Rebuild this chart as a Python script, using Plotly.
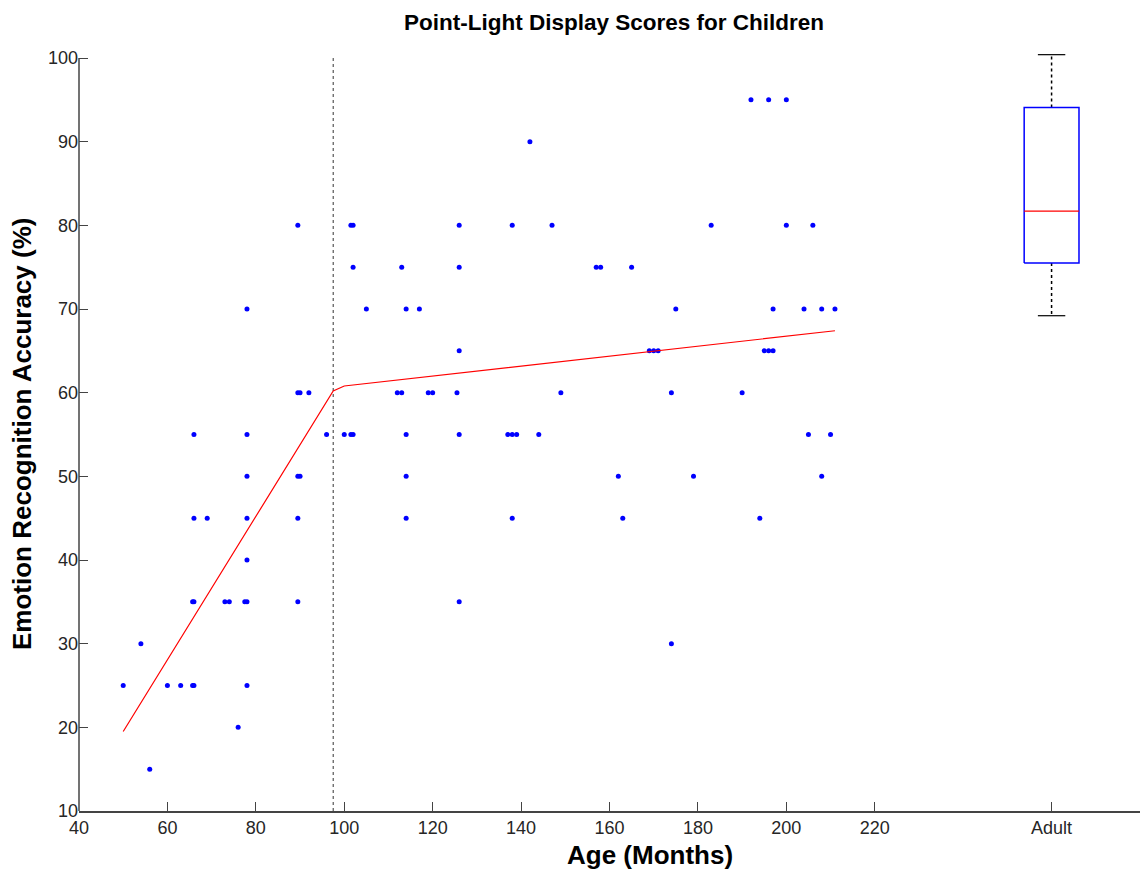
import plotly.graph_objects as go

# ---- data ----
ages = [192, 196, 200,
        142,
        89.5, 101.5, 102, 126, 138, 147, 183, 200, 206,
        102, 113, 126, 157, 158, 165,
        78, 105, 114, 117, 175, 197, 204, 208, 211,
        126, 169, 170, 171, 195, 196, 197,
        89.5, 90, 92, 112, 113, 119, 120, 125.5, 149, 174, 190,
        66, 78, 96, 100, 101.5, 102, 114, 126, 137, 138, 139, 144, 205, 210,
        78, 89.5, 90, 114, 162, 179, 208,
        66, 69, 78, 89.5, 114, 138, 163, 194,
        78,
        65.7, 66, 73, 74, 77.5, 78, 89.5, 126,
        54, 174,
        50, 60, 63, 65.7, 66, 78,
        76,
        56]
scores = [95, 95, 95,
          90,
          80, 80, 80, 80, 80, 80, 80, 80, 80,
          75, 75, 75, 75, 75, 75,
          70, 70, 70, 70, 70, 70, 70, 70, 70,
          65, 65, 65, 65, 65, 65, 65,
          60, 60, 60, 60, 60, 60, 60, 60, 60, 60, 60,
          55, 55, 55, 55, 55, 55, 55, 55, 55, 55, 55, 55, 55, 55,
          50, 50, 50, 50, 50, 50, 50,
          45, 45, 45, 45, 45, 45, 45, 45,
          40,
          35, 35, 35, 35, 35, 35, 35, 35,
          30, 30,
          25, 25, 25, 25, 25, 25,
          20,
          15]

fit_x = [50, 97.5, 100, 211]
fit_y = [19.5, 60.2, 60.8, 67.4]

breakpoint_age = 97.5
y_limits = [10, 100]

adult_position = 260
adult_lower_whisker = 69.2
adult_q1 = 75.5
adult_median = 81.7
adult_q3 = 94.1
adult_upper_whisker = 100.4

x_tick_values = [40, 60, 80, 100, 120, 140, 160, 180, 200, 220, adult_position]
x_tick_labels = ["40", "60", "80", "100", "120", "140", "160", "180", "200", "220", "Adult"]
y_tick_values = [10, 20, 30, 40, 50, 60, 70, 80, 90, 100]

# ---- styling ----
FONT = "Liberation Sans, Arial, sans-serif"
box_half = 6.2
cap_half = 3.1
AXIS_COLOR = "#444444"

fig = go.Figure()

# breakpoint dotted line
fig.add_trace(go.Scatter(
    x=[breakpoint_age, breakpoint_age], y=y_limits, mode="lines",
    line=dict(color="#333333", width=1, dash="dot"), hoverinfo="skip"))

# data points
fig.add_trace(go.Scatter(
    x=ages, y=scores, mode="markers",
    marker=dict(color="#0000ff", size=5), hoverinfo="x+y"))

# piecewise fit
fig.add_trace(go.Scatter(
    x=fit_x, y=fit_y, mode="lines",
    line=dict(color="#ff0000", width=1.2), hoverinfo="skip"))

# adult box plot (MATLAB style)
p = adult_position
fig.add_trace(go.Scatter(
    x=[p, p, None, p, p], y=[adult_q3, adult_upper_whisker, None, adult_q1, adult_lower_whisker],
    mode="lines", line=dict(color="black", width=1.5, dash="dot"), hoverinfo="skip"))
fig.add_trace(go.Scatter(
    x=[p - cap_half, p + cap_half, None, p - cap_half, p + cap_half],
    y=[adult_upper_whisker, adult_upper_whisker, None, adult_lower_whisker, adult_lower_whisker],
    mode="lines", line=dict(color="black", width=1.2), hoverinfo="skip"))
fig.add_trace(go.Scatter(
    x=[p - box_half, p + box_half, p + box_half, p - box_half, p - box_half],
    y=[adult_q1, adult_q1, adult_q3, adult_q3, adult_q1],
    mode="lines", line=dict(color="#0000ff", width=1.5), hoverinfo="skip"))
fig.add_trace(go.Scatter(
    x=[p - box_half, p + box_half], y=[adult_median, adult_median],
    mode="lines", line=dict(color="#ff0000", width=1.2), hoverinfo="skip"))

# left axis line only up to the top tick
fig.add_shape(type="line", xref="paper", yref="y", x0=0, x1=0,
              y0=y_limits[0], y1=y_limits[1],
              line=dict(color=AXIS_COLOR, width=1.5))

fig.update_layout(
    width=1143, height=876,
    margin=dict(l=79, r=3, t=53, b=65),
    paper_bgcolor="white", plot_bgcolor="white",
    showlegend=False,
    font=dict(family=FONT, size=18, color="#262626"),
    title=dict(text="<b>Point-Light Display Scores for Children</b>",
               x=614 / 1143, xanchor="center",
               y=1 - 22 / 876, yanchor="middle", yref="container",
               font=dict(family=FONT, size=22.5, color="black")),
    xaxis=dict(range=[40, 280], tickvals=x_tick_values, ticktext=x_tick_labels,
               ticks="inside", ticklen=9, tickwidth=1, tickcolor=AXIS_COLOR,
               showline=True, linecolor=AXIS_COLOR, linewidth=1.5,
               showgrid=False, zeroline=False,
               tickfont=dict(family=FONT, size=18, color="#262626")),
    yaxis=dict(range=[y_limits[0], 100.6], tickvals=y_tick_values,
               ticks="inside", ticklen=9, tickwidth=1, tickcolor=AXIS_COLOR,
               showline=False, showgrid=False, zeroline=False,
               tickfont=dict(family=FONT, size=18, color="#262626")),
    annotations=[
        dict(text="<b>Age (Months)</b>", xref="paper", yref="paper",
             x=(650 - 79) / 1061, y=-(855 - 811) / 758, xanchor="center", yanchor="middle",
             showarrow=False, font=dict(family=FONT, size=26, color="black")),
        dict(text="<b>Emotion Recognition Accuracy (%)</b>", xref="paper", yref="paper",
             x=-(79 - 22) / 1061, y=(811 - 434) / 758, xanchor="center", yanchor="middle",
             textangle=-90, showarrow=False, font=dict(family=FONT, size=26, color="black")),
    ],
)

fig.write_html("out.html")
